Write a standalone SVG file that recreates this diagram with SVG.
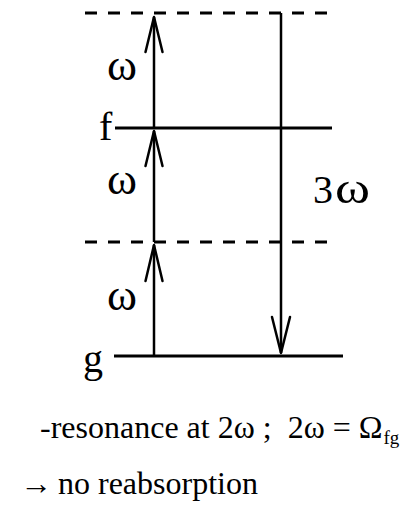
<svg xmlns="http://www.w3.org/2000/svg" width="413" height="511" viewBox="0 0 413 511">
<style>
.lvl{stroke:#000;stroke-width:3;fill:none}
.dash{stroke-dasharray:12 11}
.ar{stroke:#000;stroke-width:2.5;fill:none}
.hd{stroke:#000;stroke-width:2.5;fill:none;stroke-linecap:round;stroke-linejoin:round}
.lb{font-family:"Liberation Serif","Times New Roman",serif;font-size:40px;fill:#000}
.om{font-family:"Liberation Serif","Times New Roman",serif;font-size:44px;fill:#000}
.tx{font-family:"Liberation Serif","Times New Roman",serif;font-size:32px;fill:#000}
</style>
<rect width="413" height="511" fill="#fff"/>
<g id="levels">
<line class="lvl dash" x1="85" y1="13" x2="332" y2="13"/>
<line class="lvl" x1="115" y1="128" x2="332" y2="128"/>
<line class="lvl dash" x1="85" y1="242" x2="332" y2="242"/>
<line class="lvl" x1="114" y1="356" x2="343" y2="356"/>
</g>
<g id="connectors">
<line class="ar" x1="154" y1="356" x2="154" y2="245"/>
<polyline class="hd" points="145.5,281 154,245 162.5,281"/>
<line class="ar" x1="154" y1="242" x2="154" y2="131"/>
<polyline class="hd" points="145.5,166 154,131 162.5,166"/>
<line class="ar" x1="154" y1="128" x2="154" y2="17"/>
<polyline class="hd" points="145.5,52 154,17 162.5,52"/>
<line class="ar" x1="281" y1="13" x2="281" y2="353"/>
<polyline class="hd" points="272,317 281,353 290,317"/>
</g>
<g id="labels">
<text class="lb" x="99" y="140">f</text>
<text class="lb" x="83" y="372">g</text>
<text class="om" x="107" y="80" textLength="30" lengthAdjust="spacingAndGlyphs">ω</text>
<text class="om" x="107" y="194" textLength="30" lengthAdjust="spacingAndGlyphs">ω</text>
<text class="om" x="107" y="310" textLength="30" lengthAdjust="spacingAndGlyphs">ω</text>
<text class="lb" x="313" y="203">3</text>
<text class="om" x="335" y="203" textLength="35" lengthAdjust="spacingAndGlyphs">ω</text>
</g>
<g id="notes">
<text class="tx" x="40" y="438" xml:space="preserve">-resonance at 2ω ;  2ω = Ω<tspan font-size="19" dx="1" dy="6">fg</tspan></text>
<text class="tx" x="20" y="494" font-size="38">→</text>
<text class="tx" x="58" y="494" font-size="33">no reabsorption</text>
</g>
</svg>
